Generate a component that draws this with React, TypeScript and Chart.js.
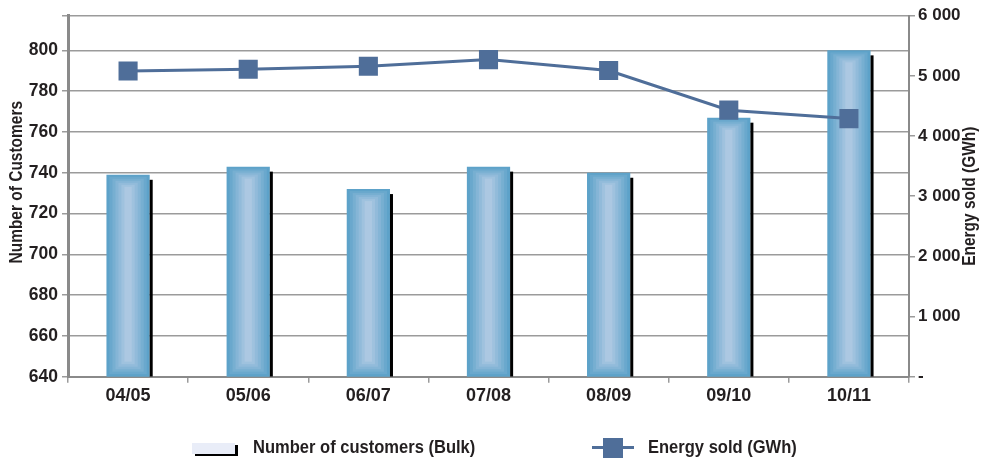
import { useEffect, useRef } from 'react';
import { Chart, registerables } from 'chart.js';

Chart.register(...registerables);

const YEARS = ['04/05', '05/06', '06/07', '07/08', '08/09', '09/10', '10/11'];
const CUSTOMERS = [739, 743, 732, 743, 740, 767, 800];
const ENERGY_GWH = [5080, 5110, 5160, 5270, 5090, 4430, 4290];
const CUSTOMER_TICKS = [640, 660, 680, 700, 720, 740, 760, 780, 800];
const ENERGY_TICKS = [0, 1000, 2000, 3000, 4000, 5000, 6000];

const FONT = "'Liberation Sans', Arial, sans-serif";
const TEXT = '#231f20';
const LINE_BLUE = '#4f6e99';
const GRID = '#9b9b9b';
const AXIS = '#8a8a8a';

const mix = (a, b, t) => {
  const c = a.map((v, i) => Math.round(v + (b[i] - v) * t));
  return `rgb(${c[0]},${c[1]},${c[2]})`;
};

// bevelled bars + black drop edge, drawn on top of the plain bar
const bevelBars = {
  id: 'bevelBars',
  afterDatasetDraw(chart, args) {
    if (args.index !== 0) return;
    const { ctx, chartArea } = chart;
    const outer = [93, 162, 201];
    const inner = [172, 200, 226];
    const steps = 6;
    ctx.save();
    ctx.beginPath();
    ctx.rect(chartArea.left, chartArea.top, chartArea.right - chartArea.left + 6, chartArea.bottom - chartArea.top);
    ctx.clip();
    args.meta.data.forEach((el) => {
      const { x, y, base, width } = el.getProps(['x', 'y', 'base', 'width'], true);
      const bottom = Math.min(base, chartArea.bottom);
      const left = x - width / 2;
      const right = x + width / 2;
      ctx.fillStyle = '#000';
      ctx.fillRect(right, y + 5, 3, bottom - y - 5);
      for (let k = 1; k <= steps; k++) {
        const ix = k * 3;
        const iy = k * 2;
        const w = width - 2 * ix;
        const h = bottom - y - 2 * iy - k * 0.5;
        if (w <= 0 || h <= 0) break;
        ctx.fillStyle = mix(outer, inner, k / steps);
        ctx.fillRect(left + ix, y + iy, w, h);
      }
    });
    ctx.restore();
  },
};

// both axis titles read bottom-to-top, in a narrowed face
const drawTitle = (ctx, text, x, y) => {
  ctx.save();
  ctx.fillStyle = TEXT;
  ctx.font = `bold 18px ${FONT}`;
  ctx.textAlign = 'center';
  ctx.textBaseline = 'middle';
  ctx.translate(x, y);
  ctx.rotate(-Math.PI / 2);
  ctx.scale(0.86, 1);
  ctx.fillText(text, 0, 0);
  ctx.restore();
};

const axisTitles = {
  id: 'axisTitles',
  afterDraw(chart) {
    const { ctx, chartArea } = chart;
    const mid = (chartArea.top + chartArea.bottom) / 2;
    drawTitle(ctx, 'Number of Customers', 17, mid - 14);
    drawTitle(ctx, 'Energy sold (GWh)', 970, mid);
  },
};

export default function App() {
  const canvasRef = useRef(null);
  const chartRef = useRef(null);

  useEffect(() => {
    if (chartRef.current) chartRef.current.destroy();

    const tickFont = { size: 17.5, weight: 'bold', family: FONT };

    chartRef.current = new Chart(canvasRef.current, {
      type: 'bar',
      data: {
        labels: YEARS,
        datasets: [
          {
            type: 'bar',
            label: 'Number of customers (Bulk)',
            data: CUSTOMERS,
            yAxisID: 'y',
            backgroundColor: 'rgb(93,162,201)',
            borderWidth: 0,
            barPercentage: 0.36,
            categoryPercentage: 1,
            order: 1,
          },
          {
            type: 'line',
            label: 'Energy sold (GWh)',
            data: ENERGY_GWH,
            yAxisID: 'y1',
            borderColor: LINE_BLUE,
            borderWidth: 3,
            pointStyle: 'rect',
            pointRadius: 13.5,
            pointBackgroundColor: LINE_BLUE,
            pointBorderWidth: 0,
            tension: 0,
            order: 0,
          },
        ],
      },
      options: {
        responsive: false,
        animation: false,
        layout: { padding: { top: 15.7, left: 0, right: 0, bottom: 0 } },
        plugins: {
          legend: { display: false },
          tooltip: { enabled: false },
        },
        scales: {
          x: {
            offset: true,
            grid: {
              offset: true,
              drawOnChartArea: false,
              drawTicks: true,
              tickLength: 6,
              color: GRID,
              lineWidth: 1.5,
            },
            border: { color: AXIS, width: 2 },
            ticks: { color: TEXT, font: { ...tickFont, size: 18 }, padding: 3 },
            afterFit: (s) => { s.height = 83.3; },
          },
          y: {
            position: 'left',
            min: 640,
            max: 817,
            afterBuildTicks: (s) => {
              s.ticks = [...CUSTOMER_TICKS, 817].map((value) => ({ value }));
            },
            grid: { color: GRID, lineWidth: 1.5, tickLength: 6 },
            border: { color: AXIS, width: 3 },
            ticks: {
              color: TEXT,
              font: tickFont,
              padding: 4,
              callback: (v) => (CUSTOMER_TICKS.includes(v) ? v : ''),
            },
            afterFit: (s) => { s.width = 68; },
          },
          y1: {
            position: 'right',
            min: 0,
            max: 6000,
            afterBuildTicks: (s) => {
              s.ticks = ENERGY_TICKS.map((value) => ({ value }));
            },
            grid: { drawOnChartArea: false, color: GRID, lineWidth: 1.5, tickLength: 6 },
            border: { color: AXIS, width: 2 },
            ticks: {
              color: TEXT,
              font: { ...tickFont, size: 17 },
              padding: 3,
              callback: (v) => (v === 0 ? '-' : String(v).replace(/\B(?=(\d{3})+(?!\d))/g, ' ')),
            },
            afterFit: (s) => { s.width = 75; },
          },
        },
      },
      plugins: [bevelBars, axisTitles],
    });

    return () => { if (chartRef.current) chartRef.current.destroy(); };
  }, []);

  const legendText = {
    position: 'absolute',
    top: 436,
    fontFamily: FONT,
    fontWeight: 'bold',
    fontSize: 19,
    lineHeight: '22px',
    color: TEXT,
    whiteSpace: 'nowrap',
    transform: 'scaleX(0.87)',
    transformOrigin: 'left center',
  };

  return (
    <div style={{ position: 'absolute', left: 0, top: 0, width: 984, height: 460, background: '#fff' }}>
      <canvas ref={canvasRef} width={984} height={460} style={{ display: 'block' }} />
      <div style={{
        position: 'absolute', left: 192, top: 443, width: 43, height: 11,
        background: '#e9edf8', boxShadow: '3px 2px 0 #000',
      }} />
      <div style={{ ...legendText, left: 253 }}>Number of customers (Bulk)</div>
      <div style={{ position: 'absolute', left: 592, top: 446, width: 42, height: 3, background: LINE_BLUE }} />
      <div style={{ position: 'absolute', left: 603, top: 438, width: 20, height: 20, background: LINE_BLUE }} />
      <div style={{ ...legendText, left: 648 }}>Energy sold (GWh)</div>
    </div>
  );
}
